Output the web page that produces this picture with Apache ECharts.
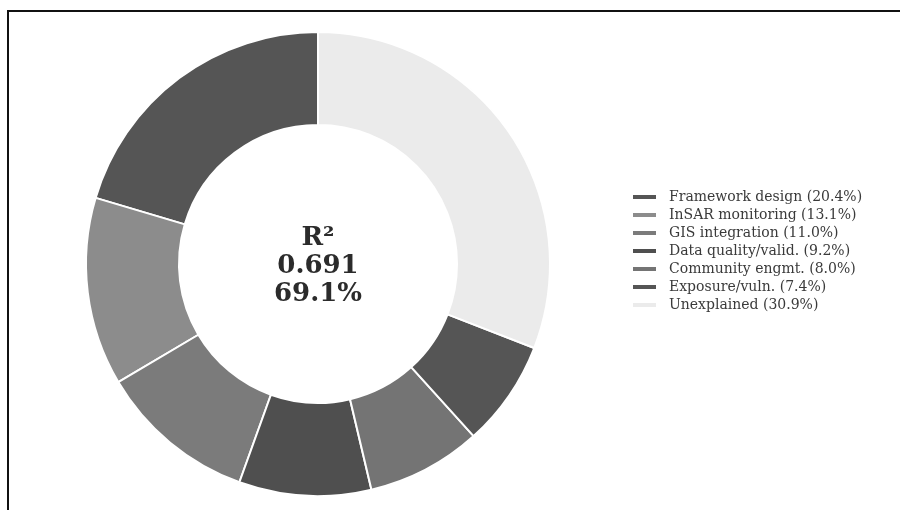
<!DOCTYPE html>
<html>
<head>
<meta charset="utf-8">
<script src="https://cdn.jsdelivr.net/npm/echarts@6/dist/echarts.min.js"></script>
<style>
  html, body { margin: 0; padding: 0; background: #ffffff; }
  #chart { width: 900px; height: 510px; }
</style>
</head>
<body>
<div id="chart"></div>
<script>
// Share of variance explained by each component (percent)
const categories = [
  'Framework design',
  'InSAR monitoring',
  'GIS integration',
  'Data quality/valid.',
  'Community engmt.',
  'Exposure/vuln.',
  'Unexplained'
];
const shares = [20.4, 13.1, 11.0, 9.2, 8.0, 7.4, 30.9];
const sliceColors = ['#555555', '#8c8c8c', '#7b7b7b', '#4f4f4f', '#747474', '#555555', '#ebebeb'];
const centerLines = ['R\u00B2', '0.691', '69.1%'];

const pieData = categories.map((name, i) => ({
  name: name,
  value: shares[i],
  itemStyle: { color: sliceColors[i] }
}));

const chart = echarts.init(document.getElementById('chart'), null, { renderer: 'canvas' });

chart.setOption({
  animation: false,
  backgroundColor: '#ffffff',
  legend: {
    orient: 'vertical',
    left: 626,
    top: 185,
    itemWidth: 25,
    itemHeight: 6,
    itemGap: 4,
    icon: 'rect',
    selectedMode: false,
    data: categories,
    formatter: function (name) {
      const i = categories.indexOf(name);
      return name + ' (' + shares[i].toFixed(1) + '%)';
    },
    textStyle: {
      fontFamily: 'DejaVu Serif',
      fontSize: 14,
      lineHeight: 14,
      color: '#3a3a3a',
      padding: [0, 0, 0, 7]
    }
  },
  series: [{
    type: 'pie',
    center: [318, 264],
    radius: [139, 232],
    startAngle: 90,
    clockwise: false,
    avoidLabelOverlap: false,
    label: { show: false },
    labelLine: { show: false },
    emphasis: { disabled: true },
    itemStyle: { borderColor: '#ffffff', borderWidth: 2 },
    data: pieData
  }],
  graphic: [
    {
      type: 'text',
      x: 318,
      y: 266,
      style: {
        text: centerLines.join('\n'),
        fontFamily: 'DejaVu Serif',
        fontWeight: 'bold',
        fontSize: 26,
        lineHeight: 28,
        fill: '#2b2b2b',
        align: 'center',
        verticalAlign: 'middle'
      }
    },
    {
      type: 'polyline',
      shape: { points: [[8, 510], [8, 11], [900, 11]] },
      style: { stroke: '#111111', lineWidth: 2, fill: null }
    }
  ]
});
</script>
</body>
</html>
